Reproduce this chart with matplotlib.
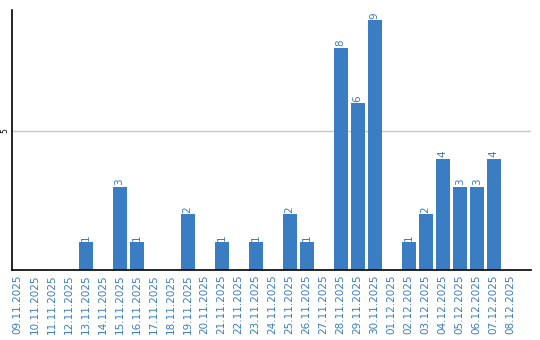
import matplotlib
matplotlib.use('Agg')
import matplotlib.pyplot as plt

# daily counts
dates = ['09.11.2025', '10.11.2025', '11.11.2025', '12.11.2025', '13.11.2025',
         '14.11.2025', '15.11.2025', '16.11.2025', '17.11.2025', '18.11.2025',
         '19.11.2025', '20.11.2025', '21.11.2025', '22.11.2025', '23.11.2025',
         '24.11.2025', '25.11.2025', '26.11.2025', '27.11.2025', '28.11.2025',
         '29.11.2025', '30.11.2025', '01.12.2025', '02.12.2025', '03.12.2025',
         '04.12.2025', '05.12.2025', '06.12.2025', '07.12.2025', '08.12.2025']
counts = [0, 0, 0, 0, 1, 0, 3, 1, 0, 0, 2, 0, 1, 0, 1, 0, 2, 1, 0, 8,
          6, 9, 0, 1, 2, 4, 3, 3, 4, 0]

blue = '#3a7dc2'

fig = plt.figure(figsize=(5.4, 3.4), dpi=100)
ax = fig.add_axes([0.0215, 0.206, 0.962, 0.764])

x = list(range(len(dates)))
ax.bar(x, counts, width=0.82, color=blue, zorder=2)

for xi, v in zip(x, counts):
    if v > 0:
        ax.text(xi, v + 0.05, str(v), rotation=90, ha='center', va='bottom',
                color=blue, fontsize=7.5)

ax.set_xlim(-0.35, 30.2)
ax.set_ylim(0, 9.35)
ax.set_xticks(x)
ax.set_xticklabels(dates, rotation=90, color=blue, fontsize=7.5)
ax.set_yticks([5])
ax.set_yticklabels(['5'], rotation=90, fontsize=5.5, va='center')
ax.tick_params(axis='x', length=0, pad=3)
ax.tick_params(axis='y', length=0, pad=1.5)
ax.grid(True, axis='y', color='#c8c8c8', linewidth=1, zorder=0)

for side in ['top', 'right']:
    ax.spines[side].set_visible(False)
ax.spines['left'].set_linewidth(1.2)
ax.spines['bottom'].set_linewidth(1.2)

fig.savefig('out.png', dpi=100)
